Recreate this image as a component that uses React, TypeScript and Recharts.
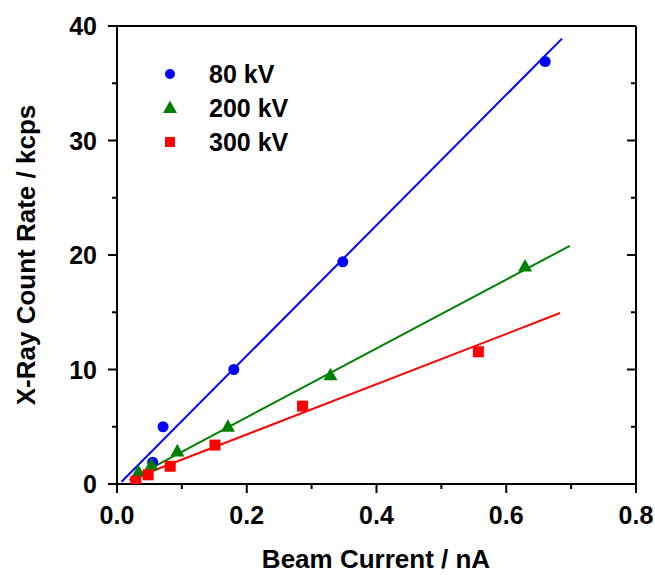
import {
  ComposedChart,
  Line,
  Scatter,
  XAxis,
  YAxis,
  Legend,
  Label,
} from 'recharts';

// values
const x80 = [0.055, 0.071, 0.18, 0.348, 0.66];
const y80 = [1.9, 5.0, 10.0, 19.4, 36.9];
const x200 = [0.033, 0.053, 0.093, 0.171, 0.329, 0.629];
const y200 = [1.05, 1.65, 2.85, 5.0, 9.5, 19.0];
const x300 = [0.029, 0.048, 0.082, 0.151, 0.286, 0.557];
const y300 = [0.25, 0.8, 1.55, 3.4, 6.8, 11.55];

// fitted line endpoints
const fit80X = [0.007, 0.686];
const fit80Y = [0.2, 38.9];
const fit200X = [0.023, 0.698];
const fit200Y = [0.5, 20.8];
const fit300X = [0.019, 0.683];
const fit300Y = [0.35, 14.93];

const xTicks = [0, 0.1, 0.2, 0.3, 0.4, 0.5, 0.6, 0.7, 0.8];
const yTicks = [0, 5, 10, 15, 20, 25, 30, 35, 40];

const labels = ['80 kV', '200 kV', '300 kV'];
const colors = ['#0000ff', '#008000', '#ff0000'];

const zip = (xs: number[], ys: number[]) => xs.map((x, i) => ({ x, y: ys[i] }));

const FONT = '"Liberation Sans", Arial, sans-serif';
const MAJOR = 9;
const MINOR = 5;

const isMajorX = (v: number) => Math.round(v * 10) % 2 === 0;
const isMajorY = (v: number) => v % 10 === 0;

const BottomTick = (props: any) => {
  const { x, y, payload } = props;
  const major = isMajorX(payload.value);
  return (
    <g>
      <line x1={x} x2={x} y1={y} y2={y + (major ? MAJOR : MINOR)} stroke="#000" strokeWidth={2} />
      {major && (
        <text x={x} y={y + 40} textAnchor="middle" fontFamily={FONT} fontWeight="bold" fontSize={25} fill="#000">
          {payload.value.toFixed(1)}
        </text>
      )}
    </g>
  );
};

const TopTick = (props: any) => {
  const { x, y, payload } = props;
  const major = isMajorX(payload.value);
  return <line x1={x} x2={x} y1={y} y2={y + (major ? MAJOR : MINOR)} stroke="#000" strokeWidth={2} />;
};

const LeftTick = (props: any) => {
  const { x, y, payload } = props;
  const major = isMajorY(payload.value);
  return (
    <g>
      <line x1={x} x2={x - (major ? MAJOR : MINOR)} y1={y} y2={y} stroke="#000" strokeWidth={2} />
      {major && (
        <text x={x - 20} y={y + 9} textAnchor="end" fontFamily={FONT} fontWeight="bold" fontSize={25} fill="#000">
          {payload.value}
        </text>
      )}
    </g>
  );
};

const RightTick = (props: any) => {
  const { x, y, payload } = props;
  const major = isMajorY(payload.value);
  return <line x1={x} x2={x - (major ? MAJOR : MINOR)} y1={y} y2={y} stroke="#000" strokeWidth={2} />;
};

const Marker = ({ kind, cx, cy, size, color }: { kind: number; cx: number; cy: number; size: number; color: string }) => {
  if (kind === 0) return <circle cx={cx} cy={cy} r={size / 2} fill={color} />;
  if (kind === 1) {
    const h = size * 0.9;
    return (
      <polygon
        points={`${cx},${cy - h * 0.6} ${cx - size / 2},${cy + h * 0.4} ${cx + size / 2},${cy + h * 0.4}`}
        fill={color}
      />
    );
  }
  return <rect x={cx - size / 2} y={cy - size / 2} width={size} height={size} fill={color} />;
};

const shapeFor = (kind: number, size: number) => (props: any) =>
  <Marker kind={kind} cx={props.cx} cy={props.cy} size={size} color={colors[kind]} />;

const LegendBox = () => (
  <svg width={170} height={110}>
    {labels.map((l, i) => (
      <g key={l}>
        <Marker kind={i} cx={20} cy={24 + i * 34} size={i === 1 ? 14 : 10} color={colors[i]} />
        <text x={59} y={24 + i * 34 + 9} fontFamily={FONT} fontWeight="bold" fontSize={25} fill="#000">
          {l}
        </text>
      </g>
    ))}
  </svg>
);

export default function App() {
  return (
    <div style={{ position: 'absolute', left: 0, top: 0, background: '#fff' }}>
      <ComposedChart width={655} height={575} margin={{ top: 25, right: 18, bottom: 0, left: 0 }}>
        <XAxis
          dataKey="x"
          type="number"
          domain={[0, 0.8]}
          ticks={xTicks}
          allowDataOverflow
          height={91}
          axisLine={{ stroke: '#000', strokeWidth: 2 }}
          tickLine={false}
          tickSize={0}
          tickMargin={0}
          tick={BottomTick}
          interval={0}
        >
          <Label
            content={() => (
              <text x={376} y={568} textAnchor="middle" fontFamily={FONT} fontWeight="bold" fontSize={26} fill="#000">
                Beam Current / nA
              </text>
            )}
          />
        </XAxis>
        <XAxis
          xAxisId="top"
          orientation="top"
          type="number"
          domain={[0, 0.8]}
          ticks={xTicks}
          allowDataOverflow
          height={1}
          axisLine={{ stroke: '#000', strokeWidth: 2 }}
          tickLine={false}
          tickSize={0}
          tickMargin={0}
          tick={TopTick}
          interval={0}
        />
        <YAxis
          dataKey="y"
          type="number"
          domain={[0, 40]}
          ticks={yTicks}
          allowDataOverflow
          width={117}
          axisLine={{ stroke: '#000', strokeWidth: 2 }}
          tickLine={false}
          tickSize={0}
          tickMargin={0}
          tick={LeftTick}
          interval={0}
        >
          <Label
            content={() => (
              <text
                x={35}
                y={255}
                transform="rotate(-90 35 255)"
                textAnchor="middle"
                fontFamily={FONT}
                fontWeight="bold"
                fontSize={26}
                fill="#000"
              >
                X-Ray Count Rate / kcps
              </text>
            )}
          />
        </YAxis>
        <YAxis
          yAxisId="right"
          orientation="right"
          type="number"
          domain={[0, 40]}
          ticks={yTicks}
          allowDataOverflow
          width={1}
          axisLine={{ stroke: '#000', strokeWidth: 2 }}
          tickLine={false}
          tickSize={0}
          tickMargin={0}
          tick={RightTick}
          interval={0}
        />
        <Legend
          layout="horizontal"
          verticalAlign="middle"
          align="center"
          wrapperStyle={{ left: 150, top: 50, width: 170, height: 110 }}
          content={LegendBox}
        />
        <Line data={zip(fit80X, fit80Y)} dataKey="y" stroke={colors[0]} strokeWidth={2} dot={false} isAnimationActive={false} legendType="none" />
        <Line data={zip(fit200X, fit200Y)} dataKey="y" stroke={colors[1]} strokeWidth={2} dot={false} isAnimationActive={false} legendType="none" />
        <Line data={zip(fit300X, fit300Y)} dataKey="y" stroke={colors[2]} strokeWidth={2} dot={false} isAnimationActive={false} legendType="none" />
        <Scatter data={zip(x80, y80)} dataKey="y" shape={shapeFor(0, 11)} isAnimationActive={false} />
        <Scatter data={zip(x200, y200)} dataKey="y" shape={shapeFor(1, 14)} isAnimationActive={false} />
        <Scatter data={zip(x300, y300)} dataKey="y" shape={shapeFor(2, 11)} isAnimationActive={false} />
      </ComposedChart>
    </div>
  );
}
